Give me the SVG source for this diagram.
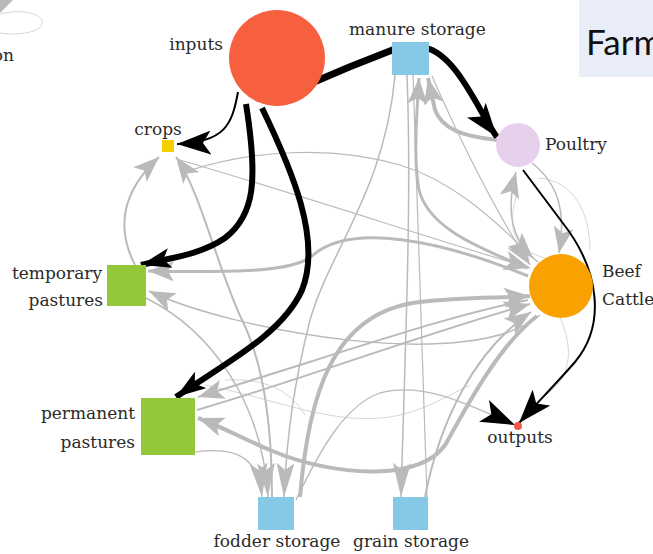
<svg xmlns="http://www.w3.org/2000/svg" width="653" height="554" viewBox="0 0 653 554">
<style>
.lbl{font-family:"DejaVu Serif","Liberation Serif",serif;font-size:17px;fill:#2a2a2a}
.g{fill:none;stroke:#bababa}
.f{fill:none;stroke:#d6d6d6;stroke-width:1}
.b{fill:none;stroke:#000}
.sq{stroke:none}
</style>
<defs>
<marker id="arrG" viewBox="0 0 26 20" refX="26" refY="10" markerWidth="26" markerHeight="20" markerUnits="userSpaceOnUse" orient="auto"><path d="M0,0 L26,10 L0,20 L6,10 Z" fill="#bababa"/></marker>
<marker id="arrGF" viewBox="0 0 34 18" refX="34" refY="9" markerWidth="34" markerHeight="18" markerUnits="userSpaceOnUse" orient="auto"><path d="M0,0 L34,9 L0,18 L7,9 Z" fill="#bababa"/></marker>
<marker id="arrB" viewBox="0 0 34 24" refX="34" refY="12" markerWidth="34" markerHeight="24" markerUnits="userSpaceOnUse" orient="auto"><path d="M0,0 L34,12 L0,24 L8,12 Z" fill="#000"/></marker>
<marker id="arrBm" viewBox="0 0 30 20" refX="30" refY="10" markerWidth="30" markerHeight="20" markerUnits="userSpaceOnUse" orient="auto"><path d="M0,0 L30,10 L0,20 L7,10 Z" fill="#000"/></marker>
</defs>
<rect width="653" height="554" fill="#fff"/>

<g id="farm-title">
<rect x="579" y="0" width="74" height="77" fill="#e8edf7"/>
<text x="586" y="55" font-family="Lato,'Open Sans','Liberation Sans',sans-serif" font-size="35" fill="#111">Farm</text>
</g>

<g id="cut-node">
<polygon points="0,0 13,0 0,13" fill="#bababa"/>
<path class="f" d="M0,14 C25,8 45,15 42,24 C40,32 20,36 0,33" stroke-width="2"/>
<text class="lbl" x="14" y="61" text-anchor="end">on</text>
</g>

<g id="connectors">
<path class="f" d="M205,385 C280,400 330,425 390,417 C420,412 440,400 470,385"/>
<path class="f" d="M518,190 C505,230 515,250 545,258"/>
<path class="f" d="M538,178 C575,180 590,215 590,250"/>
<path class="f" d="M225,380 C265,378 290,390 305,415"/>
<path class="f" d="M560,318 C575,350 570,380 545,395"/>
<path class="g" stroke-width="4" d="M497,140 C460,136 442,128 435,110 L428,78" marker-end="url(#arrG)"/>
<path class="g" stroke-width="3" d="M528,268 C470,245 428,225 419,190 C413,160 417,110 419,78" marker-end="url(#arrG)"/>
<path class="g" stroke-width="1.5" d="M395,75 C385,190 330,250 310,320 C295,380 287,430 284,497" marker-end="url(#arrGF)"/>
<path class="g" stroke-width="1.5" d="M407,75 C412,200 405,350 401,497" marker-end="url(#arrGF)"/>
<path class="g" stroke-width="1.2" d="M427,497 C425,400 420,250 413,75"/>
<path class="g" stroke-width="2" d="M135,265 C118,232 118,195 159,157" marker-end="url(#arrG)"/>
<path class="g" stroke-width="2" d="M272,497 C272,420 262,360 242,320 C218,270 200,190 176,157" marker-end="url(#arrG)"/>
<path class="g" stroke-width="1.2" d="M180,160 C300,195 420,235 530,268" marker-end="url(#arrG)"/>
<path class="g" stroke-width="1.2" d="M185,172 C250,150 330,145 400,165 C450,180 490,215 533,258" marker-end="url(#arrG)"/>
<path class="g" stroke-width="3" d="M528,276 C440,240 350,222 312,256 C290,274 220,272 148,271" marker-end="url(#arrG)"/>
<path class="g" stroke-width="1.5" d="M540,315 C470,375 230,330 149,291" marker-end="url(#arrG)"/>
<path class="g" stroke-width="2" d="M528,300 C450,315 350,350 198,397" marker-end="url(#arrG)"/>
<path class="g" stroke-width="4" d="M537,316 C500,345 470,400 448,440 C425,485 330,475 275,452 C245,440 225,428 198,418" marker-end="url(#arrG)"/>
<path class="g" stroke-width="1.2" d="M195,452 C238,446 258,458 262,497" marker-end="url(#arrGF)"/>
<path class="g" stroke-width="1.5" d="M146,298 C210,330 262,400 268,497" marker-end="url(#arrGF)"/>
<path class="g" stroke-width="4" d="M300,497 C308,400 330,312 420,302 C460,297 500,298 530,296" marker-end="url(#arrG)"/>
<path class="g" stroke-width="2" d="M197,410 C300,380 420,335 530,304" marker-end="url(#arrG)"/>
<path class="g" stroke-width="2" d="M425,497 C440,420 475,350 531,312" marker-end="url(#arrG)"/>
<path class="g" stroke-width="1.2" d="M432,76 C460,140 495,210 530,265" marker-end="url(#arrG)"/>
<path class="g" stroke-width="1.5" d="M538,262 C510,240 506,210 516,172" marker-end="url(#arrG)"/>
<path class="g" stroke-width="1.5" d="M532,163 C560,185 566,215 559,253" marker-end="url(#arrG)"/>
<path class="g" stroke-width="1.3" stroke="#9a9a9a" d="M296,500 C320,450 345,405 380,393 C420,382 460,400 515,425" marker-end="url(#arrB)"/>
<path class="b" stroke-width="7" d="M300,88 Q350,66 400,47"/>
<path class="b" stroke-width="6" d="M420,47 C455,48 480,115 497,137" marker-end="url(#arrB)"/>
<path class="b" stroke-width="2" d="M238,92 C232,125 225,142 177,144" marker-end="url(#arrB)"/>
<path class="b" stroke-width="6" d="M246,104 C258,180 255,215 225,238 C200,255 170,258 141,265" marker-end="url(#arrBm)"/>
<path class="b" stroke-width="6" d="M262,108 C292,170 322,240 302,290 C282,335 222,365 176,397" marker-end="url(#arrBm)"/>
<path class="b" stroke-width="2" d="M523,170 L562,222 C600,270 606,325 575,362 C555,385 535,405 519,423" marker-end="url(#arrB)"/>
</g>

<g id="inputs">
<circle cx="277" cy="58" r="48" fill="#f6603f"/>
<text class="lbl" x="223" y="50" text-anchor="end">inputs</text>
</g>
<g id="manure-storage">
<rect class="sq" x="392" y="42" width="37" height="33" fill="#86c9e7"/>
<text class="lbl" x="349" y="35">manure storage</text>
</g>
<g id="poultry">
<circle cx="518" cy="145" r="22" fill="#e6d0eb"/>
<text class="lbl" x="545" y="150">Poultry</text>
</g>
<g id="beef-cattle">
<circle cx="561" cy="286" r="32" fill="#f9a100"/>
<text class="lbl" x="602" y="277">Beef</text>
<text class="lbl" x="602" y="305">Cattle</text>
</g>
<g id="outputs">
<circle cx="518" cy="426" r="4" fill="#f25a45"/>
<text class="lbl" x="520" y="443" text-anchor="middle">outputs</text>
</g>
<g id="crops">
<rect class="sq" x="162" y="140" width="12" height="12" fill="#f5d000"/>
<text class="lbl" x="158" y="135" text-anchor="middle">crops</text>
</g>
<g id="temporary-pastures">
<rect class="sq" x="107" y="265" width="39" height="41" fill="#94c73a"/>
<text class="lbl" x="102" y="279" text-anchor="end">temporary</text>
<text class="lbl" x="103" y="306" text-anchor="end">pastures</text>
</g>
<g id="permanent-pastures">
<rect class="sq" x="141" y="398" width="54" height="57" fill="#94c73a"/>
<text class="lbl" x="135" y="419" text-anchor="end">permanent</text>
<text class="lbl" x="135" y="448" text-anchor="end">pastures</text>
</g>
<g id="fodder-storage">
<rect class="sq" x="258" y="497" width="36" height="33" fill="#86c9e7"/>
<text class="lbl" x="277" y="547" text-anchor="middle">fodder storage</text>
</g>
<g id="grain-storage">
<rect class="sq" x="393" y="497" width="35" height="33" fill="#86c9e7"/>
<text class="lbl" x="411" y="547" text-anchor="middle">grain storage</text>
</g>
</svg>
